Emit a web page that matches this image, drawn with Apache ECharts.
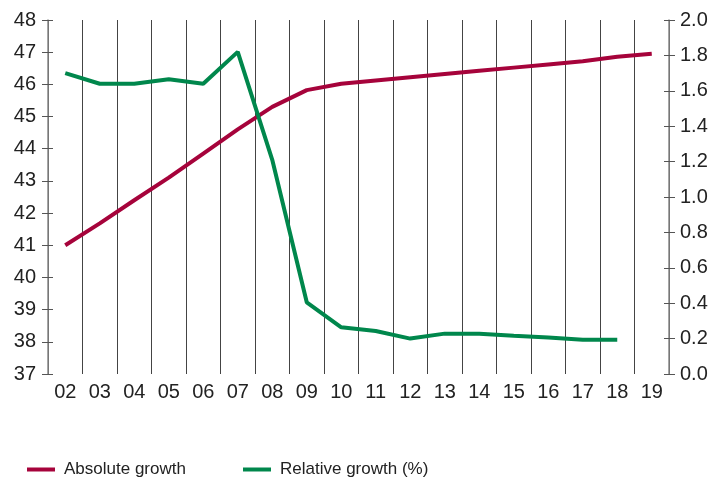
<!DOCTYPE html>
<html>
<head>
<meta charset="utf-8">
<script src="https://cdn.jsdelivr.net/npm/echarts@6/dist/echarts.min.js"></script>
<style>html,body{margin:0;padding:0;background:#fff}#c{width:728px;height:480px}</style>
</head>
<body>
<div id="c"></div>
<script>
var categories = ['02','03','04','05','06','07','08','09','10','11','12','13','14','15','16','17','18','19'];
var absoluteGrowth = [41.0, 41.68, 42.4, 43.1, 43.85, 44.6, 45.3, 45.82, 46.02, 46.12, 46.22, 46.32, 46.42, 46.52, 46.62, 46.72, 46.86, 46.95];
var relativeGrowth = [1.70, 1.64, 1.64, 1.665, 1.64, 1.82, 1.21, 0.405, 0.264, 0.243, 0.20, 0.228, 0.228, 0.216, 0.206, 0.194, 0.194, null];
var leftTicks = {min: 37, max: 48, interval: 1};
var rightTicks = {min: 0, max: 2, interval: 0.2};

var font = 'Liberation Sans, Arial, sans-serif';
var chart = echarts.init(document.getElementById('c'), null, {renderer: 'canvas'});
function tickOnlyAxis(t, pos) {
  return {type: 'value', position: pos, min: t.min, max: t.max, interval: t.interval,
    axisLine: {show: false}, axisLabel: {show: false}, splitLine: {show: false},
    axisTick: {show: true, inside: true, length: 5, lineStyle: {color: '#555'}}};
}
chart.setOption({
  animation: false,
  grid: {left: 48, right: 59, top: 20, bottom: 106, containLabel: false},
  legend: [
    {data: ['Absolute growth'], left: 22, top: 456, padding: 5, itemWidth: 28, itemHeight: 4, icon: 'rect',
     textStyle: {fontFamily: font, fontSize: 17, color: '#222', padding: [0,0,0,4]}},
    {data: ['Relative growth (%)'], left: 238, top: 456, padding: 5, itemWidth: 28, itemHeight: 4, icon: 'rect',
     textStyle: {fontFamily: font, fontSize: 17, color: '#222', padding: [0,0,0,4]}}
  ],
  xAxis: {
    type: 'category', data: categories, boundaryGap: true,
    axisLine: {show: false}, axisTick: {show: false},
    axisLabel: {interval: 0, fontFamily: font, fontSize: 20, color: '#222', margin: 8},
    splitLine: {show: true, interval: 0, lineStyle: {color: '#444', width: 1}}
  },
  yAxis: [
    {type: 'value', position: 'left', min: leftTicks.min, max: leftTicks.max, interval: leftTicks.interval,
     axisLine: {show: true, lineStyle: {color: '#888', width: 1.5}},
     axisTick: {show: true, length: 6, lineStyle: {color: '#555'}},
     axisLabel: {fontFamily: font, fontSize: 20, color: '#222', margin: 12},
     splitLine: {show: false}},
    {type: 'value', position: 'right', min: rightTicks.min, max: rightTicks.max, interval: rightTicks.interval,
     axisLine: {show: true, lineStyle: {color: '#888', width: 1.5}},
     axisTick: {show: true, length: 6, lineStyle: {color: '#555'}},
     axisLabel: {fontFamily: font, fontSize: 20, color: '#222', margin: 11,
       formatter: function (v) { return v.toFixed(1); }},
     splitLine: {show: false}},
    tickOnlyAxis(leftTicks, 'left'),
    tickOnlyAxis(rightTicks, 'right')
  ],
  series: [
    {name: 'Absolute growth', type: 'line', yAxisIndex: 0, data: absoluteGrowth,
     symbol: 'none', lineStyle: {color: '#a6033b', width: 4}, itemStyle: {color: '#a6033b'}},
    {name: 'Relative growth (%)', type: 'line', yAxisIndex: 1, data: relativeGrowth,
     symbol: 'none', lineStyle: {color: '#00874c', width: 4}, itemStyle: {color: '#00874c'}}
  ]
});
</script>
</body>
</html>
